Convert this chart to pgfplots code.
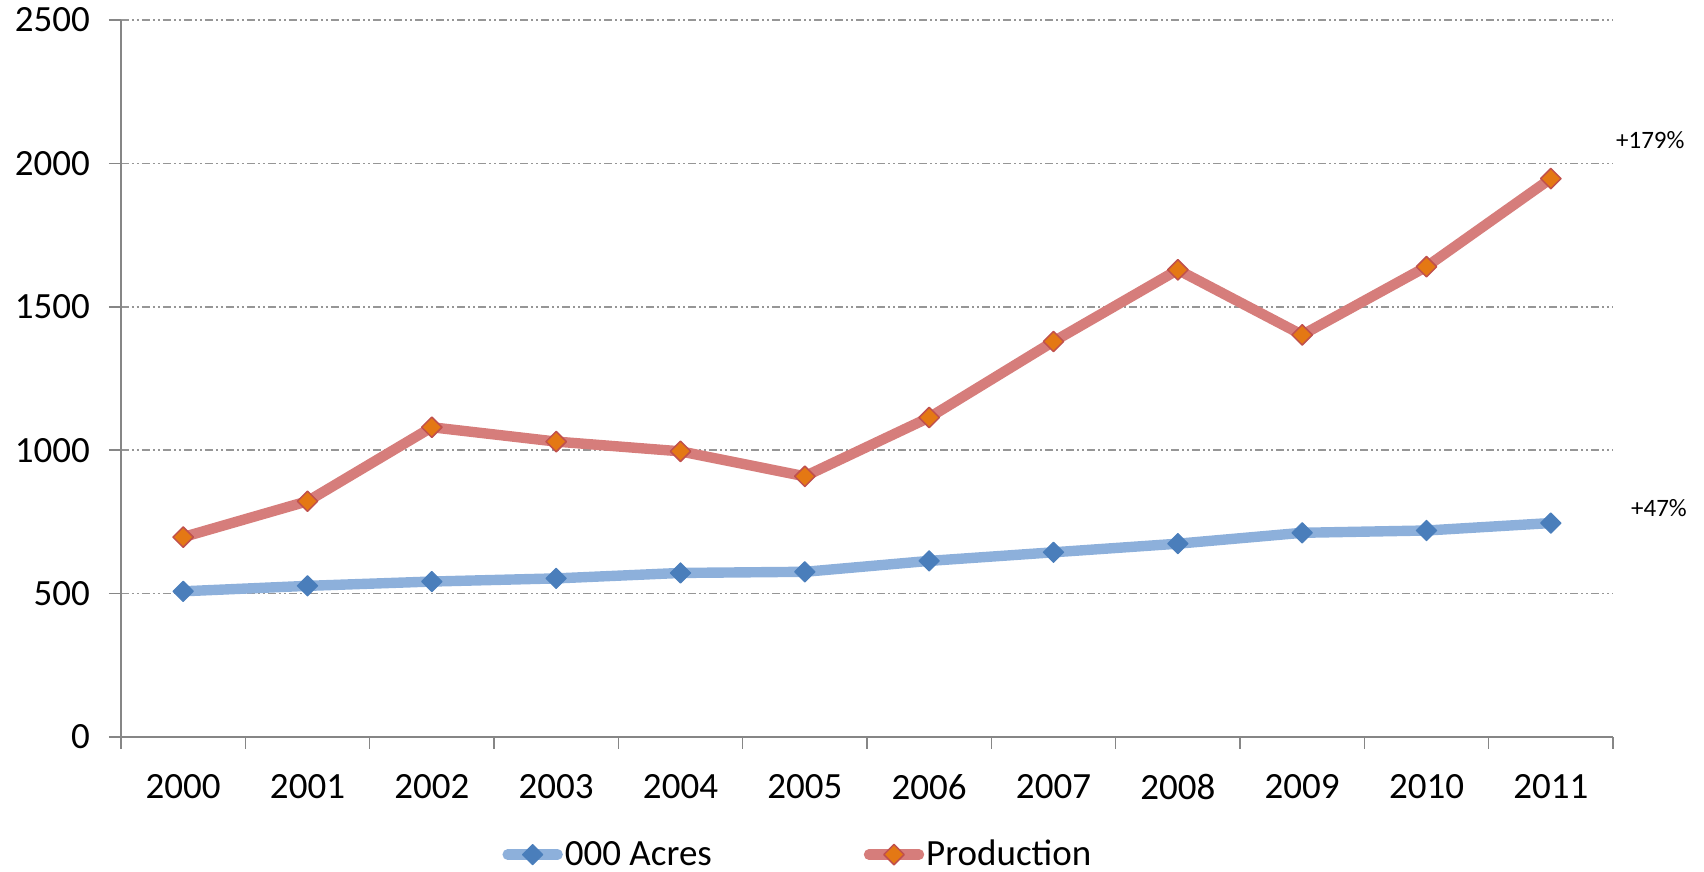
\documentclass[border=0pt]{standalone}
\usepackage{fontspec}
\setmainfont{Carlito}
\usepackage{pgfplots}
\pgfplotsset{compat=1.18}
\definecolor{acline}{RGB}{141,176,219}
\definecolor{acmark}{RGB}{74,126,187}
\definecolor{prline}{RGB}{214,125,123}
\definecolor{prmark}{RGB}{228,120,20}
\definecolor{prborder}{RGB}{192,80,77}
\definecolor{gridc}{RGB}{150,150,150}
\definecolor{axisc}{RGB}{134,134,134}
\pgfplotstableread{
x acres prod
0.5 508 697
1.5 527 822
2.5 542 1080
3.5 553 1030
4.5 572 996
5.5 576 909
6.5 614 1114
7.5 644 1379
8.5 674 1629
9.5 712 1402
10.5 720 1640
11.5 746 1947
}\data
\begin{document}
\begin{tikzpicture}
\path[use as bounding box] (-60.5pt,-67.5pt) rectangle (791.5pt,368.5pt);
\begin{axis}[
  scale only axis,
  width=746pt, height=358.5pt,
  xmin=0, xmax=12, ymin=0, ymax=2500,
  axis lines=left,
  axis line style={draw=axisc, line width=0.75pt, -},
  every tick/.style={draw=axisc, line width=0.75pt},
  tick align=outside,
  major tick length=6pt,
  xtick={0,1,...,12},
  xticklabels={2000,2001,2002,2003,2004,2005,2006,2007,2008,2009,2010,2011},
  x tick label as interval,
  ytick={0,500,...,2500},
  ymajorgrids,
  major grid style={draw=gridc, line width=0.75pt, dash pattern=on 4pt off 1.5pt on 1pt off 1.5pt on 1pt off 1.5pt},
  tick label style={font=\fontsize{18.5}{21}\selectfont, text=black},
  yticklabel style={xshift=-6pt},
  xticklabel style={yshift=-9pt},
  /pgf/number format/assume math mode=true,
  /pgf/number format/1000 sep={},
  clip=false,
  legend style={at={(0.2554,-0.164)}, anchor=west, draw=none, fill=none, inner sep=0pt,
    font=\fontsize{18.5}{21}\selectfont,
    nodes={inner sep=1pt},
    /tikz/every even column/.append style={column sep=75pt}},
  legend columns=2,
  legend cell align=left,
  legend image code/.code={\draw[mark repeat=2,mark phase=2, line cap=round] plot coordinates {(0pt,0pt) (12.5pt,0pt) (25pt,0pt)};},
]
\addplot[color=acline, line width=5.2pt, line join=round, mark=square*,
  mark options={rotate=45, draw=acmark, fill=acmark, line width=0.5pt}, mark size=3.6pt]
  table[x=x, y=acres]{\data};
\addlegendentry{000 Acres}
\addplot[color=prline, line width=5.2pt, line join=round, mark=square*,
  mark options={rotate=45, draw=prborder, fill=prmark, line width=0.75pt}, mark size=3.6pt]
  table[x=x, y=prod]{\data};
\addlegendentry{Production}
\node[font=\fontsize{12.5}{14}\selectfont] at (axis cs:12.30,2082) {+179\%};
\node[font=\fontsize{12.5}{14}\selectfont] at (axis cs:12.37,798) {+47\%};
\end{axis}
\end{tikzpicture}
\end{document}
